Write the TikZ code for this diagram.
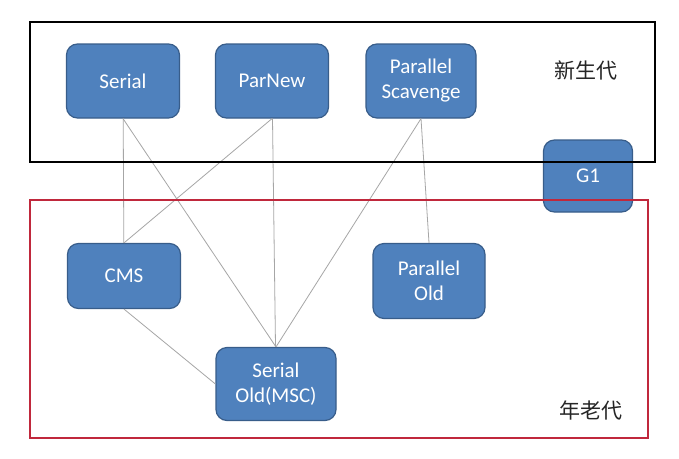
\documentclass[tikz,border=0pt]{standalone}
\usepackage{fontspec}
\setmainfont{Carlito}
\newfontfamily\cjk{Noto Sans CJK SC}
\usetikzlibrary{positioning}
\definecolor{gcfill}{HTML}{4F81BD}
\definecolor{gcedge}{HTML}{385D8A}
\definecolor{oldred}{HTML}{C0283C}
\tikzstyle{gc}=[draw=gcedge,fill=gcfill,line width=1.2pt,rounded corners=11pt,
  text=white,align=center,font=\fontsize{21}{25}\selectfont,
  minimum width=113pt,minimum height=74pt,inner sep=2pt]
\tikzstyle{link}=[draw=gray!70,line width=0.8pt]
\tikzstyle{gen}=[font=\cjk\fontsize{21}{24}\selectfont,text=black!85]

\begin{document}
\begin{tikzpicture}[x=1pt,y=-1pt]
  \useasboundingbox[fill=white] (0,0) rectangle (679,458);
  % young generation collectors
  \node[gc] (serial) at (123,81) {Serial};
  \node[gc] (parnew) at (272,81) {ParNew};
  \node[gc,minimum width=110pt] (scavenge) at (421,81) {Parallel\\Scavenge};
  % old generation collectors
  \node[gc,minimum height=65pt] (cms) at (124,276) {CMS};
  \node[gc,minimum width=112pt,minimum height=75pt] (parold) at (429,281) {Parallel\\Old};
  \node[gc,minimum width=120pt,minimum height=73pt] (serold) at (276,384) {Serial\\Old(MSC)};
  \node[gc,minimum width=89pt,minimum height=72pt] (g1) at (588,176) {G1};
  % pairings
  \draw[link] (serial) -- (cms);
  \draw[link] (serial.south) -- (serold.north);
  \draw[link] (parnew.south) -- (cms.north);
  \draw[link] (parnew) -- (serold);
  \draw[link] (scavenge.south) -- (serold.north);
  \draw[link] (scavenge.south) -- (parold.north);
  \draw[link] (cms.south) -- (serold.west);
  % generations
  \draw[line width=2pt] (30,22) rectangle (655,162);
  \draw[oldred,line width=2pt] (30,200) rectangle (648,438);
  \node[gen] (young) at (586,70) {新生代};
  \node[gen] (old) at (591,410) {年老代};
\end{tikzpicture}
\end{document}
